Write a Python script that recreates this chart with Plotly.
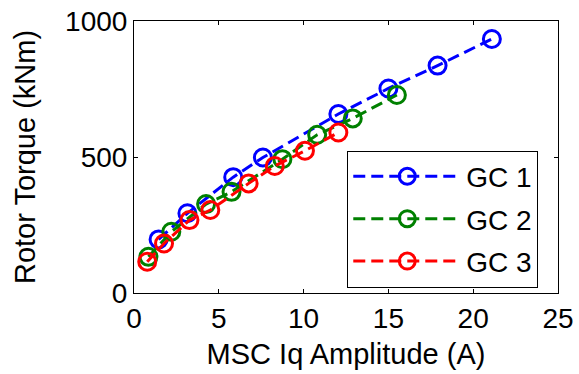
import plotly.graph_objects as go

# Data
gc1_x = [1.45, 3.15, 5.85, 7.6, 12.05, 15.0, 17.9, 21.1]
gc1_y = [197, 293, 426, 498, 658, 752, 836, 934]
gc2_x = [0.85, 2.2, 4.25, 5.75, 8.75, 10.8, 12.9, 15.5]
gc2_y = [133, 225, 327, 372, 492, 582, 642, 728]
gc3_x = [0.78, 1.77, 3.27, 4.5, 6.76, 8.3, 10.08, 12.05]
gc3_y = [115, 182, 268, 305, 403, 467, 523, 590]

series_names = ["GC 1", "GC 2", "GC 3"]
series_colors = ["#0000FF", "#008000", "#FF0000"]
x_ticks = [0, 5, 10, 15, 20, 25]
y_ticks = [0, 500, 1000]

FONT = "Liberation Sans, Arial, sans-serif"

fig = go.Figure()
for i, (name, xs, ys, col) in enumerate(zip(series_names, [gc1_x, gc2_x, gc3_x],
                                            [gc1_y, gc2_y, gc3_y], series_colors)):
    fig.add_trace(go.Scatter(
        x=xs, y=ys, name=name, mode="lines+markers", legendgroup=f"g{i}",
        line=dict(color=col, width=3, dash="12px,6px"),
        marker=dict(symbol="circle-open", size=17, color=col,
                    line=dict(color=col, width=3)),
    ))

axis_common = dict(
    showline=True, linecolor="black", linewidth=1, mirror="ticks",
    ticks="inside", ticklen=4, tickcolor="black", showgrid=False,
    zeroline=False, automargin=False, ticklabeloverflow="allow",
    tickfont=dict(family=FONT, size=28, color="black"),
)

fig.update_layout(
    width=579, height=374,
    margin=dict(l=134, r=21, t=21, b=81),
    paper_bgcolor="white", plot_bgcolor="white",
    showlegend=True,
    xaxis=dict(range=[0, 25], tickvals=x_ticks,
               title=dict(text="MSC Iq Amplitude (A)", standoff=11,
                          font=dict(family=FONT, size=29, color="black")),
               **axis_common),
    yaxis=dict(range=[0, 1000], tickvals=y_ticks,
               title=dict(text="Rotor Torque (kNm)", standoff=20,
                          font=dict(family=FONT, size=29, color="black")),
               **axis_common),
    legend=dict(x=0.503, y=0.02, xanchor="left", yanchor="bottom",
                bgcolor="white", bordercolor="black", borderwidth=1,
                font=dict(family=FONT, size=28, color="black"),
                itemwidth=108, tracegroupgap=3),
)

# Remove the default page margin so the figure sits at the window's top-left
fig.write_html("out.html",
               config={"displayModeBar": False},
               post_script="document.body.style.margin='0';document.body.style.overflow='hidden';")
